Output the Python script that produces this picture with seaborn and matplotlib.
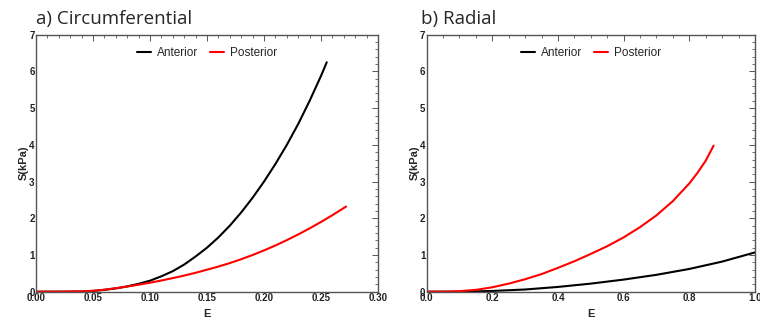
import pandas as pd
import numpy as np
import matplotlib
matplotlib.use("Agg")
import matplotlib.pyplot as plt
import seaborn as sns
from matplotlib.ticker import MultipleLocator

# a) circumferential
circE_ant = [0.00, 0.02, 0.04, 0.05, 0.06, 0.07, 0.08, 0.09, 0.10, 0.11, 0.12, 0.13,
             0.14, 0.15, 0.16, 0.17, 0.18, 0.19, 0.20, 0.21, 0.22, 0.23, 0.24, 0.25, 0.255]
circS_ant = [0.00, 0.00, 0.005, 0.02, 0.05, 0.09, 0.145, 0.215, 0.30, 0.42, 0.56, 0.74,
             0.96, 1.20, 1.48, 1.80, 2.16, 2.56, 3.00, 3.48, 4.00, 4.57, 5.20, 5.88, 6.25]
circE_post = [0.00, 0.02, 0.04, 0.05, 0.06, 0.07, 0.08, 0.09, 0.10, 0.11, 0.12, 0.13,
              0.14, 0.15, 0.16, 0.17, 0.18, 0.19, 0.20, 0.21, 0.22, 0.23, 0.24, 0.25, 0.26, 0.272]
circS_post = [0.00, 0.002, 0.01, 0.025, 0.055, 0.095, 0.14, 0.19, 0.245, 0.305, 0.37, 0.44,
              0.515, 0.60, 0.685, 0.78, 0.885, 1.00, 1.125, 1.26, 1.405, 1.56, 1.725, 1.90, 2.085, 2.32]

# b) radial
radE_ant = [0.0, 0.1, 0.2, 0.3, 0.4, 0.5, 0.6, 0.7, 0.8, 0.9, 1.0]
radS_ant = [0.00, 0.00, 0.02, 0.06, 0.13, 0.22, 0.33, 0.46, 0.62, 0.82, 1.07]
radE_post = [0.0, 0.05, 0.1, 0.15, 0.2, 0.25, 0.3, 0.35, 0.4, 0.45, 0.5, 0.55, 0.6,
             0.65, 0.7, 0.75, 0.8, 0.825, 0.85, 0.874]
radS_post = [0.00, 0.002, 0.015, 0.05, 0.12, 0.22, 0.34, 0.48, 0.65, 0.83, 1.03, 1.24, 1.48,
             1.76, 2.08, 2.47, 2.95, 3.24, 3.57, 3.98]

groups = ["Anterior", "Posterior"]
colors = {"Anterior": "black", "Posterior": "red"}

dfCirc = pd.concat([pd.DataFrame({"E": circE_ant, "S": circS_ant, "grp": "Anterior"}),
                    pd.DataFrame({"E": circE_post, "S": circS_post, "grp": "Posterior"})],
                   ignore_index=True)
dfRad = pd.concat([pd.DataFrame({"E": radE_ant, "S": radS_ant, "grp": "Anterior"}),
                   pd.DataFrame({"E": radE_post, "S": radS_post, "grp": "Posterior"})],
                  ignore_index=True)

sns.set_style("white")
plt.rcParams['font.family'] = ['Liberation Sans', 'DejaVu Sans']

fig = plt.figure(figsize=(7.6, 3.24), dpi=100)
axA = fig.add_axes([0.0474, 0.0997, 0.45, 0.793])
axB = fig.add_axes([0.5614, 0.0997, 0.4320, 0.793])

frameCol = '#555555'
for ax, df, xmax, xmaj, xmin_, fmt in [(axA, dfCirc, 0.30, 0.05, 0.01, '%.2f'),
                                       (axB, dfRad, 1.0, 0.2, 0.05, '%.1f')]:
    sns.lineplot(data=df, x="E", y="S", hue="grp", hue_order=groups, palette=colors,
                 ax=ax, linewidth=1.5, sort=False, estimator=None)
    ax.set_xlim(0, xmax)
    ax.set_ylim(0, 7)
    ax.xaxis.set_major_locator(MultipleLocator(xmaj))
    ax.xaxis.set_minor_locator(MultipleLocator(xmin_))
    ax.yaxis.set_major_locator(MultipleLocator(1))
    ax.yaxis.set_minor_locator(MultipleLocator(0.2))
    ax.xaxis.set_major_formatter(matplotlib.ticker.FormatStrFormatter(fmt))
    ax.tick_params(which='both', direction='in', top=True, right=True, colors=frameCol,
                   labelcolor='#222222', labelsize=7, pad=1)
    ax.tick_params(which='major', length=4, width=0.7)
    ax.tick_params(which='minor', length=2, width=0.6)
    for lab in ax.get_xticklabels() + ax.get_yticklabels():
        lab.set_fontweight('bold')
    for s in ax.spines.values():
        s.set_color(frameCol)
        s.set_linewidth(1.0)
    ax.set_xlabel('E', fontweight='bold', fontsize=8, labelpad=4)
    ax.set_ylabel('S(kPa)', fontweight='bold', fontsize=8, labelpad=0)
    ax.legend(loc='upper center', bbox_to_anchor=(0.5, 0.995), ncol=2, frameon=False,
              fontsize=8.5, handlelength=1.2, columnspacing=1.0, handletextpad=0.5)

fig.text(0.047, 0.925, 'a) Circumferential', fontsize=13.5, family=['Open Sans', 'DejaVu Sans'])
fig.text(0.554, 0.925, 'b) Radial', fontsize=13.5, family=['Open Sans', 'DejaVu Sans'])

plt.savefig('out.png', dpi=100)
